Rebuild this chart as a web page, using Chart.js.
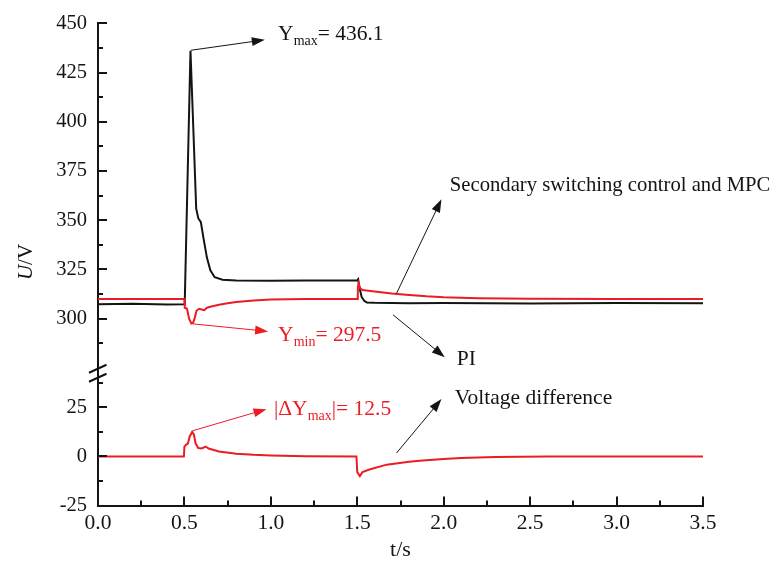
<!DOCTYPE html>
<html>
<head>
<meta charset="utf-8">
<script src="https://cdn.jsdelivr.net/npm/chart.js@4.4.1/dist/chart.umd.min.js"></script>
<style>
  html, body { margin: 0; padding: 0; background: #fff; }
  canvas { display: block; }
</style>
</head>
<body>
<canvas id="uChart" width="774" height="569"></canvas>
<script>
// time axis (s) and voltages (V)
const piT = [0, 0.2, 0.4, 0.5, 0.502, 0.535, 0.55, 0.568, 0.58, 0.595, 0.61, 0.63, 0.65, 0.675, 0.72, 0.8, 1.0, 1.2, 1.4, 1.5, 1.505, 1.512, 1.525, 1.54, 1.555, 1.6, 1.8, 2.0, 2.5, 3.0, 3.5];
const piU = [307.3, 307.5, 307.2, 307.3, 309, 436.1, 400, 356, 351, 349, 341, 331, 324.5, 321, 319.7, 319.3, 319.2, 319.4, 319.3, 319.4, 320, 316, 311, 309, 308.2, 308, 307.8, 307.9, 307.7, 307.9, 307.8];

const mpcT = [0, 0.5, 0.502, 0.515, 0.527, 0.54, 0.55, 0.56, 0.57, 0.585, 0.6, 0.615, 0.63, 0.65, 0.7, 0.75, 0.8, 0.9, 1.0, 1.2, 1.5, 1.503, 1.508, 1.515, 1.53, 1.6, 1.7, 1.8, 1.9, 2.0, 2.2, 2.5, 3.0, 3.5];
const mpcU = [310, 310, 305.5, 305, 300, 297.5, 297.8, 300.5, 304, 305, 304.6, 304.3, 305.5, 306, 307, 307.8, 308.4, 309.2, 309.7, 310, 310, 316, 318, 315.5, 314.5, 313.7, 312.7, 312, 311.3, 310.8, 310.3, 310.1, 310, 310];

const diffT = [0, 0.497, 0.5, 0.51, 0.52, 0.53, 0.545, 0.555, 0.565, 0.58, 0.6, 0.623, 0.64, 0.7, 0.8, 0.9, 1.0, 1.2, 1.495, 1.5, 1.515, 1.53, 1.57, 1.67, 1.8, 1.86, 2.0, 2.1, 2.3, 2.6, 3.0, 3.5];
const diffU = [0, 0, 5, 6, 6.5, 10, 12.5, 11, 6.5, 4.2, 4, 5, 4, 2.5, 1.4, 0.8, 0.5, 0.1, 0, -8, -10, -8, -6.7, -4.2, -2.7, -2.2, -1.3, -0.8, -0.3, -0.1, 0, 0];

const xTicks = [0, 0.5, 1.0, 1.5, 2.0, 2.5, 3.0, 3.5];
const topTicks = [300, 325, 350, 375, 400, 425, 450];
const botTicks = [-25, 0, 25];

const RED = '#ec1c24';
const INK = '#141414';
const SERIF = '"Liberation Serif", "DejaVu Serif", serif';

function pts(ts, us) {
  return ts.map((t, i) => ({ x: t, y: us[i] }));
}

// arrows + labels (positions in data units of the axis they belong to)
const notes = [
  { axis: 'yTop', from: [0.537, 436.3], to: [0.965, 441.6], at: [1.042, 444.6], color: INK,
    parts: [['Y'], ['max', 'sub'], ['= 436.1']] },
  { axis: 'yTop', from: [0.55, 297.3], to: [0.984, 293.5], at: [1.042, 291.3], color: RED,
    parts: [['Y'], ['min', 'sub'], ['= 297.5']] },
  { axis: 'yBot', from: [0.55, 13.1], to: [0.975, 24.0], at: [1.018, 24.0], color: RED,
    parts: [['|\u0394Y'], ['max', 'sub'], ['|= 12.5']] },
  { axis: 'yTop', from: [1.727, 312.8], to: [1.987, 360.6], at: [2.035, 367.5], color: INK,
    parts: [['Secondary switching control and MPC']], size: 20.7 },
  { axis: 'yTop', from: [1.707, 301.9], to: [2.006, 280.4], at: [2.076, 279.5], color: INK,
    parts: [['PI']] },
  { axis: 'yBot', from: [1.727, 1.7], to: [1.987, 29.1], at: [2.064, 29.7], color: INK,
    parts: [['Voltage difference']] }
];

function arrow(ctx, x1, y1, x2, y2, color) {
  const a = Math.atan2(y2 - y1, x2 - x1);
  const len = 13, half = 4.5;
  ctx.strokeStyle = color;
  ctx.fillStyle = color;
  ctx.lineWidth = 1;
  ctx.beginPath();
  ctx.moveTo(x1, y1);
  ctx.lineTo(x2 - Math.cos(a) * len * 0.8, y2 - Math.sin(a) * len * 0.8);
  ctx.stroke();
  ctx.beginPath();
  ctx.moveTo(x2, y2);
  ctx.lineTo(x2 - Math.cos(a) * len - Math.sin(a) * half, y2 - Math.sin(a) * len + Math.cos(a) * half);
  ctx.lineTo(x2 - Math.cos(a) * len + Math.sin(a) * half, y2 - Math.sin(a) * len - Math.cos(a) * half);
  ctx.closePath();
  ctx.fill();
}

const axisExtras = {
  id: 'axisExtras',
  afterDraw(chart) {
    const { ctx, chartArea, scales } = chart;
    const left = chartArea.left;
    const bottom = chartArea.bottom;
    ctx.save();

    // inward tick marks
    ctx.strokeStyle = INK;
    ctx.lineWidth = 2;
    ['yTop', 'yBot'].forEach(id => {
      const s = scales[id];
      s.ticks.forEach(t => {
        if (id === 'yTop' && t.value < 285) return;
        const y = Math.round(s.getPixelForValue(t.value));
        const len = t.value % 25 === 0 ? 9 : 5;
        ctx.beginPath();
        ctx.moveTo(left, y);
        ctx.lineTo(left + len, y);
        ctx.stroke();
      });
    });
    const sx = scales.x;
    sx.ticks.forEach(t => {
      const x = Math.round(sx.getPixelForValue(t.value));
      const major = Math.abs(t.value * 2 - Math.round(t.value * 2)) < 1e-6;
      ctx.beginPath();
      ctx.moveTo(x, bottom);
      ctx.lineTo(x, bottom - (major ? 9 : 5));
      ctx.stroke();
    });

    // axis break marks
    const yb = scales.yTop.bottom;
    ctx.lineWidth = 2;
    ctx.beginPath();
    ctx.moveTo(left - 9, yb);
    ctx.lineTo(left + 8.5, yb - 8);
    ctx.moveTo(left - 9, yb + 9);
    ctx.lineTo(left + 8.5, yb + 1);
    ctx.stroke();

    // annotations
    notes.forEach(n => {
      const ys = scales[n.axis];
      const x1 = sx.getPixelForValue(n.from[0]), y1 = ys.getPixelForValue(n.from[1]);
      const x2 = sx.getPixelForValue(n.to[0]), y2 = ys.getPixelForValue(n.to[1]);
      arrow(ctx, x1, y1, x2, y2, n.color);
      let tx = sx.getPixelForValue(n.at[0]);
      const ty = ys.getPixelForValue(n.at[1]);
      ctx.fillStyle = n.color;
      ctx.textAlign = 'left';
      ctx.textBaseline = 'middle';
      n.parts.forEach(p => {
        const sub = p[1] === 'sub';
        ctx.font = (sub ? '14px ' : (n.size || 21.5) + 'px ') + SERIF;
        ctx.fillText(p[0], tx, ty + (sub ? 7 : 0));
        tx += ctx.measureText(p[0]).width;
      });
    });

    // y title: U/V with italic U
    ctx.translate(26, 262);
    ctx.rotate(-Math.PI / 2);
    ctx.fillStyle = INK;
    ctx.textBaseline = 'middle';
    ctx.font = 'italic 21px ' + SERIF;
    const wU = ctx.measureText('U').width;
    ctx.font = '21px ' + SERIF;
    const wV = ctx.measureText('/V').width;
    ctx.textAlign = 'left';
    ctx.font = 'italic 21px ' + SERIF;
    ctx.fillText('U', -(wU + wV) / 2, 0);
    ctx.font = '21px ' + SERIF;
    ctx.fillText('/V', -(wU + wV) / 2 + wU, 0);

    ctx.restore();
  }
};

const yFont = { family: SERIF, size: 20.5 };
const xFont = { family: SERIF, size: 21.5 };

new Chart(document.getElementById('uChart'), {
  type: 'line',
  data: {
    datasets: [
      { label: 'Secondary switching control and MPC', data: pts(mpcT, mpcU), yAxisID: 'yTop',
        borderColor: RED, borderWidth: 2 },
      { label: 'PI', data: pts(piT, piU), yAxisID: 'yTop',
        borderColor: INK, borderWidth: 2 },
      { label: 'Voltage difference', data: pts(diffT, diffU), yAxisID: 'yBot',
        borderColor: RED, borderWidth: 2 }
    ]
  },
  options: {
    responsive: false,
    animation: false,
    layout: { padding: { left: 48, right: 71, top: 19, bottom: 0 } },
    elements: { point: { radius: 0 }, line: { tension: 0 } },
    plugins: { legend: { display: false }, tooltip: { enabled: false } },
    scales: {
      x: {
        type: 'linear',
        min: 0,
        max: 3.5,
        afterFit: s => { s.height = 63.4; },
        grid: { display: false, drawTicks: false },
        border: { display: true, color: INK, width: 2 },
        ticks: {
          stepSize: 0.25,
          autoSkip: false,
          maxRotation: 0,
          padding: 5,
          color: INK,
          font: xFont,
          callback: v => (xTicks.some(t => Math.abs(t - v) < 1e-6) ? v.toFixed(1) : '')
        },
        title: { display: true, text: 't/s', color: INK, font: { family: SERIF, size: 22 },
          padding: { top: 0, bottom: 6 } }
      },
      yTop: {
        type: 'linear',
        position: 'left',
        stack: 'u',
        stackWeight: 177.5,
        weight: 1,
        min: 272.5,
        max: 450,
        afterFit: s => { s.width = 50; },
        grid: { display: false, drawTicks: false },
        border: { display: true, color: INK, width: 2 },
        ticks: {
          stepSize: 12.5,
          includeBounds: false,
          autoSkip: false,
          padding: 11,
          color: INK,
          font: yFont,
          callback: v => (topTicks.includes(v) ? v : '')
        }
      },
      yBot: {
        type: 'linear',
        position: 'left',
        stack: 'u',
        stackWeight: 67.5,
        weight: 0,
        min: -25,
        max: 42.5,
        afterFit: s => { s.width = 50; },
        grid: { display: false, drawTicks: false },
        border: { display: true, color: INK, width: 2 },
        ticks: {
          stepSize: 12.5,
          includeBounds: false,
          autoSkip: false,
          padding: 11,
          color: INK,
          font: yFont,
          callback: v => (botTicks.includes(v) ? v : '')
        }
      }
    }
  },
  plugins: [axisExtras]
});
</script>
</body>
</html>
